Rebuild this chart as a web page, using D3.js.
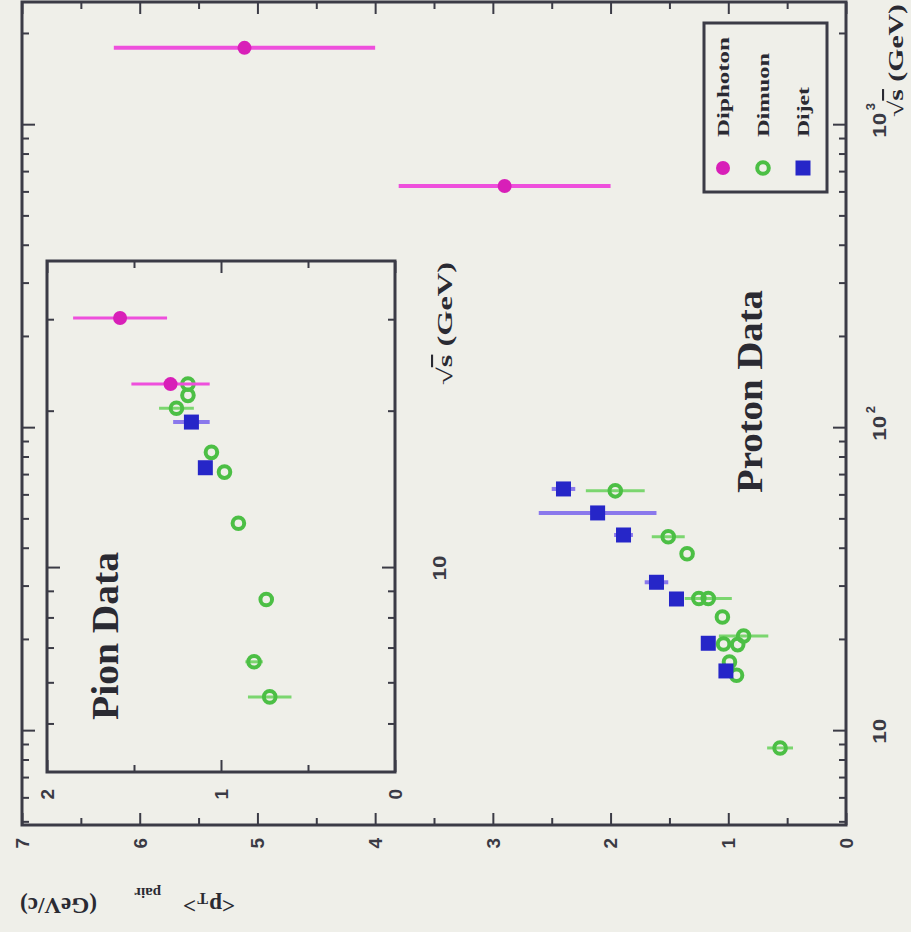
<!DOCTYPE html>
<meta charset="utf-8">
<style>
    body{ margin:0; background:#efefe9; }
    svg{ display:block; }
    .tick-lab{ font-family:"Liberation Sans", Arial, sans-serif; font-weight:bold; fill:#3a3a44; }
    .serif{ font-family:"Liberation Serif", "Times New Roman", serif; fill:#2a2a32; }
</style>
<svg id="chart" width="911" height="932"></svg>
<script src="https://d3js.org/d3.v7.min.js"></script>
<script>

// ---- proton data (main frame) ----
var diphotonProtonRootS = [630, 1800];
var diphotonProtonPt    = [2.90, 5.11];
var diphotonProtonErr   = [0.90, 1.11];

var dimuonProtonRootS = [8.8, 15.3, 16.9, 19.3, 19.4, 20.6, 23.8, 27.4, 27.4, 38.5, 43.8, 62.1];
var dimuonProtonPt    = [0.56, 0.93, 0.99, 0.92, 1.04, 0.87, 1.05, 1.25, 1.17, 1.35, 1.51, 1.96];
var dimuonProtonErr   = [0.11, 0, 0, 0, 0, 0.21, 0, 0, 0.2, 0, 0.14, 0.25];

var dijetProtonRootS = [15.8, 19.5, 27.3, 31, 44.4, 52.5, 63];
var dijetProtonPt    = [1.02, 1.17, 1.44, 1.61, 1.89, 2.11, 2.40];
var dijetProtonErr   = [0, 0, 0.04, 0.1, 0.08, 0.5, 0.1];

// ---- pion data (inset) ----
var diphotonPionRootS = [22.6, 30.3];
var diphotonPionPt    = [1.29, 1.58];
var diphotonPionErr   = [0.225, 0.27];

var dimuonPionRootS = [5.65, 6.6, 8.7, 12.2, 15.3, 16.7, 20.3, 21.5, 22.6];
var dimuonPionPt    = [0.72, 0.81, 0.74, 0.90, 0.98, 1.055, 1.256, 1.19, 1.19];
var dimuonPionErr   = [0.125, 0.05, 0, 0, 0, 0, 0.1, 0, 0];

var dijetPionRootS = [15.6, 19.1];
var dijetPionPt    = [1.09, 1.17];
var dijetPionErr   = [0, 0.105];

// ---- ticks / labels ----
var ptTicksMain   = [0, 1, 2, 3, 4, 5, 6, 7];
var ptTicksPion   = [0, 1, 2];
var rootSMajor    = [10, 100, 1000];
var rootSExponent = ["", "2", "3"];
var rootSMinor    = [5, 6, 7, 8, 9, 20, 30, 40, 50, 60, 70, 80, 90, 200, 300, 400, 500, 600, 700, 800, 900, 2000];
var rootSPionMajor = [10];
var rootSPionMinor = [5, 6, 7, 8, 9, 20, 30];
var legendNames = ["Diphoton", "Dimuon", "Dijet"];

var frameColor = "#3b3b46";
var styles = {
    diphoton: {shape: "dot",    fill: "#d81fb8", bar: "#ee4fdc", barWidth: 4,   r: 7},
    dimuon:   {shape: "ring",   fill: "#4cbf45", bar: "#7bd66f", barWidth: 3,   r: 5.8},
    dijet:    {shape: "square", fill: "#2626c8", bar: "#8a78ec", barWidth: 4,   r: 7.5}
};

var svg = d3.select("#chart");
svg.append("rect").attr("width", 911).attr("height", 932).attr("fill", "#efefe9");

// the figure was scanned sideways: draw it upright, then turn it
var g = svg.append("g").attr("transform", "translate(0,932) rotate(-90)");

function marker(layer, pts, fx, fy, st) {
    if (st.shape === "square") {
        layer.selectAll(null).data(pts).enter().append("rect")
            .attr("x", function(d){ return fx(d) - st.r; })
            .attr("y", function(d){ return fy(d) - st.r; })
            .attr("width", st.r * 2).attr("height", st.r * 2)
            .attr("fill", st.fill);
    } else if (st.shape === "ring") {
        layer.selectAll(null).data(pts).enter().append("circle")
            .attr("cx", fx).attr("cy", fy).attr("r", st.r)
            .attr("fill", "none").attr("stroke", st.fill).attr("stroke-width", 4);
    } else {
        layer.selectAll(null).data(pts).enter().append("circle")
            .attr("cx", fx).attr("cy", fy).attr("r", st.r)
            .attr("fill", st.fill);
    }
}

function plotSeries(layer, sx, sy, rootS, pt, err, st) {
    var pts = rootS.map(function(s, i){ return {s: s, pt: pt[i], err: err[i]}; });
    layer.selectAll(null).data(pts.filter(function(d){ return d.err > 0; })).enter().append("line")
        .attr("x1", function(d){ return sx(d.s); })
        .attr("x2", function(d){ return sx(d.s); })
        .attr("y1", function(d){ return sy(d.pt - d.err); })
        .attr("y2", function(d){ return sy(d.pt + d.err); })
        .attr("stroke", st.bar).attr("stroke-width", st.barWidth);
    marker(layer, pts, function(d){ return sx(d.s); }, function(d){ return sy(d.pt); }, st);
}

// inward ticks on all four sides of a frame
function frameTicks(layer, sx, sy, xMajor, xMinor, yMajor, yMinor) {
    var x0 = sx.range()[0], x1 = sx.range()[1], y0 = sy.range()[0], y1 = sy.range()[1];
    var sets = [
        [d3.axisBottom(sx), y0, xMajor, 13], [d3.axisBottom(sx), y0, xMinor, 7],
        [d3.axisTop(sx),    y1, xMajor, 13], [d3.axisTop(sx),    y1, xMinor, 7],
        [d3.axisLeft(sy),   x0, yMajor, 12], [d3.axisLeft(sy),   x0, yMinor, 7],
        [d3.axisRight(sy),  x1, yMajor, 12], [d3.axisRight(sy),  x1, yMinor, 7]
    ];
    sets.forEach(function(s, i) {
        var ax = s[0].tickValues(s[2]).tickSize(-s[3]).tickFormat("");
        var t = i < 4 ? "translate(0," + s[1] + ")" : "translate(" + s[1] + ",0)";
        var a = layer.append("g").attr("transform", t).call(ax);
        a.select(".domain").remove();
        a.selectAll("line").attr("stroke", frameColor).attr("stroke-width", 2);
    });
}

function halves(max) {
    var out = [];
    for (var v = 0.5; v < max; v += 1) out.push(v);
    return out;
}

// ---------------- main frame ----------------
var x = d3.scaleLog().domain([4.9, 2550]).range([107, 930]);
var y = d3.scaleLinear().domain([0, 7]).range([846, 22]);

frameTicks(g, x, y, rootSMajor, rootSMinor, ptTicksMain, halves(7));
g.append("rect").attr("x", 107).attr("y", 22).attr("width", 823).attr("height", 824)
    .attr("fill", "none").attr("stroke", frameColor).attr("stroke-width", 3);

g.selectAll(null).data(ptTicksMain).enter().append("text")
    .attr("class", "tick-lab").attr("font-size", 19)
    .attr("x", 94).attr("y", function(d){ return y(d); }).attr("dy", "0.36em")
    .attr("text-anchor", "end").text(function(d){ return d; });

var xl = g.selectAll(null).data(rootSMajor).enter().append("g")
    .attr("transform", function(d){ return "translate(" + x(d) + ",886)"; });
xl.append("text").attr("class", "tick-lab").attr("font-size", 18)
    .attr("text-anchor", "middle").attr("textLength", 25).attr("lengthAdjust", "spacingAndGlyphs")
    .text("10");
xl.append("text").attr("class", "tick-lab").attr("font-size", 13)
    .attr("x", 15).attr("y", -11)
    .text(function(d, i){ return rootSExponent[i]; });

var xt = g.append("text").attr("class", "serif").attr("font-size", 21).attr("font-weight", "bold")
    .attr("x", 815).attr("y", 903).attr("textLength", 113).attr("lengthAdjust", "spacingAndGlyphs");
xt.append("tspan").text("√");
xt.append("tspan").attr("text-decoration", "overline").text("s");
xt.append("tspan").text(" (GeV)");

var yt = g.append("text").attr("class", "serif").attr("font-size", 23).attr("font-weight", "bold")
    .attr("transform", "translate(34,235) rotate(-90)");
yt.append("tspan").attr("x", 0).attr("y", 0).text("<p");
yt.append("tspan").attr("x", 27).attr("y", 5).attr("font-size", 16).text("T");
yt.append("tspan").attr("x", 39).attr("y", 0).text(">");
yt.append("tspan").attr("x", 74).attr("y", 10).attr("font-size", 15).text("pair");
yt.append("tspan").attr("x", 138).attr("y", 0).attr("textLength", 77)
    .attr("lengthAdjust", "spacingAndGlyphs").text("(GeV/c)");

g.append("text").attr("class", "serif").attr("font-size", 36).attr("font-weight", "bold")
    .attr("x", 439).attr("y", 762).attr("textLength", 203).attr("lengthAdjust", "spacingAndGlyphs")
    .text("Proton Data");

var mainLayer = g.append("g");
plotSeries(mainLayer, x, y, dimuonProtonRootS, dimuonProtonPt, dimuonProtonErr, styles.dimuon);
plotSeries(mainLayer, x, y, dijetProtonRootS, dijetProtonPt, dijetProtonErr, styles.dijet);
plotSeries(mainLayer, x, y, diphotonProtonRootS, diphotonProtonPt, diphotonProtonErr, styles.diphoton);

// legend
var leg = g.append("g");
leg.append("rect").attr("x", 740).attr("y", 704).attr("width", 169).attr("height", 123)
    .attr("fill", "none").attr("stroke", frameColor).attr("stroke-width", 3);
var legStyles = [styles.diphoton, styles.dimuon, styles.dijet];
var legLen = [100, 84, 50];
legendNames.forEach(function(name, i) {
    var row = 723 + i * 40;
    marker(leg, [0], function(){ return 764; }, function(){ return row; }, legStyles[i]);
    leg.append("text").attr("class", "serif").attr("font-size", 17).attr("font-weight", "bold")
        .attr("x", 795).attr("y", row + 6)
        .attr("textLength", legLen[i]).attr("lengthAdjust", "spacingAndGlyphs")
        .text(name);
});

// ---------------- pion inset ----------------
var xi = d3.scaleLog().domain([4.05, 39]).range([160, 671]);
var yi = d3.scaleLinear().domain([0, 2]).range([395, 47]);

g.append("rect").attr("x", 160).attr("y", 47).attr("width", 511).attr("height", 348)
    .attr("fill", "#efefe9");
frameTicks(g, xi, yi, rootSPionMajor, rootSPionMinor, ptTicksPion, halves(2));
g.append("rect").attr("x", 160).attr("y", 47).attr("width", 511).attr("height", 348)
    .attr("fill", "none").attr("stroke", frameColor).attr("stroke-width", 3);

g.selectAll(null).data(ptTicksPion).enter().append("text")
    .attr("class", "tick-lab").attr("font-size", 19)
    .attr("x", 143).attr("y", function(d){ return yi(d); }).attr("dy", "0.36em")
    .attr("text-anchor", "end").text(function(d){ return d; });

g.selectAll(null).data(rootSPionMajor).enter().append("text")
    .attr("class", "tick-lab").attr("font-size", 18)
    .attr("x", function(d){ return xi(d); }).attr("y", 446)
    .attr("text-anchor", "middle").attr("textLength", 25).attr("lengthAdjust", "spacingAndGlyphs")
    .text("10");

var xti = g.append("text").attr("class", "serif").attr("font-size", 21).attr("font-weight", "bold")
    .attr("x", 547).attr("y", 452).attr("textLength", 123).attr("lengthAdjust", "spacingAndGlyphs");
xti.append("tspan").text("√");
xti.append("tspan").attr("text-decoration", "overline").text("s");
xti.append("tspan").text(" (GeV)");

g.append("text").attr("class", "serif").attr("font-size", 38).attr("font-weight", "bold")
    .attr("x", 212).attr("y", 118).attr("textLength", 168).attr("lengthAdjust", "spacingAndGlyphs")
    .text("Pion Data");

var pionLayer = g.append("g");
plotSeries(pionLayer, xi, yi, dimuonPionRootS, dimuonPionPt, dimuonPionErr, styles.dimuon);
plotSeries(pionLayer, xi, yi, dijetPionRootS, dijetPionPt, dijetPionErr, styles.dijet);
plotSeries(pionLayer, xi, yi, diphotonPionRootS, diphotonPionPt, diphotonPionErr,
    {shape: "dot", fill: "#d81fb8", bar: "#ee4fdc", barWidth: 3, r: 7});

</script>
